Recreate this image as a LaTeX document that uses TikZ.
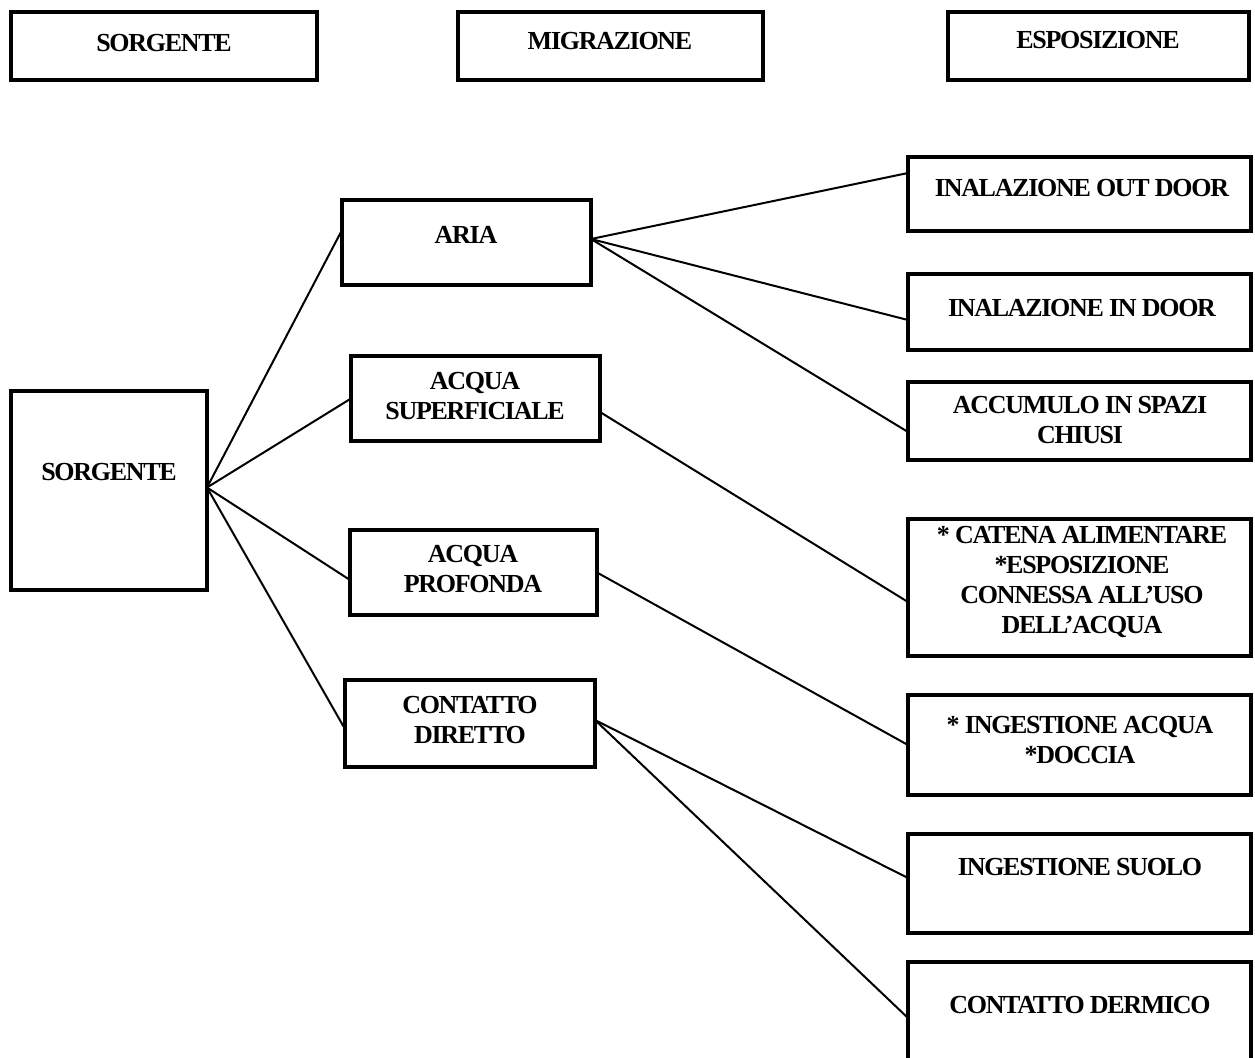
\documentclass[tikz,border=0pt]{standalone}
\usepackage{fontspec}
\setmainfont{Liberation Serif}[LetterSpace=-5]

\tikzset{
  box/.style 2 args={draw, line width=4.5pt, outer sep=0pt, inner sep=0pt,
    anchor=north west, minimum width=#1pt, minimum height=#2pt},
  lbl/.style={font=\bfseries\fontsize{26}{30}\selectfont, align=center, inner sep=0pt},
  link/.style={line width=2pt}
}

\begin{document}
\begin{tikzpicture}[x=1pt, y=-1pt]
    \useasboundingbox (0,0) rectangle (1255,1057);

    \node[box={306}{68}] (hsrc) at (11,12) {};
    \node[box={305}{68}] (hmig) at (458,12) {};
    \node[box={301}{68}] (hexp) at (948,12) {};
    \node[lbl] (hsrc-t) at (164,43) {SORGENTE};
    \node[lbl] (hmig-t) at (610,41) {MIGRAZIONE};
    \node[lbl] (hexp-t) at (1098,40) {ESPOSIZIONE};

    \node[box={196}{199}] (src) at (11,391) {};
    \node[lbl] (src-t) at (109,472) {SORGENTE};

    \node[box={249}{85}] (aria) at (342,200) {};
    \node[box={249}{85}] (asup) at (351,356) {};
    \node[box={247}{85}] (aprof) at (350,530) {};
    \node[box={250}{87}] (cdir) at (345,680) {};
    \node[lbl] (aria-t) at (466,235) {ARIA};
    \node[lbl] (asup-t) at (475,396) {ACQUA\\SUPERFICIALE};
    \node[lbl] (aprof-t) at (473,569) {ACQUA\\PROFONDA};
    \node[lbl] (cdir-t) at (470,720) {CONTATTO\\DIRETTO};

    \node[box={343}{74}] (outd) at (908,157) {};
    \node[box={343}{76}] (ind) at (908,274) {};
    \node[box={343}{78}] (accu) at (908,382) {};
    \node[box={343}{137}] (cat) at (908,519) {};
    \node[box={343}{100}] (ingacq) at (908,695) {};
    \node[box={343}{99}] (suolo) at (908,834) {};
    \node[box={343}{100}] (derm) at (908,962) {};
    \node[lbl] (outd-t) at (1082,188) {INALAZIONE OUT DOOR};
    \node[lbl] (ind-t) at (1082,308) {INALAZIONE IN DOOR};
    \node[lbl] (accu-t) at (1080,420) {ACCUMULO IN SPAZI\\CHIUSI};
    \node[lbl] (cat-t) at (1082,582) {* CATENA ALIMENTARE\\*ESPOSIZIONE\\CONNESSA ALL’USO\\DELL’ACQUA};
    \node[lbl] (ingacq-t) at (1080,740) {* INGESTIONE ACQUA\\*DOCCIA};
    \node[lbl] (suolo-t) at (1080,867) {INGESTIONE SUOLO};
    \node[lbl] (derm-t) at (1080,1005) {CONTATTO DERMICO};

    \coordinate (hub) at ([yshift=3pt]src.east);
    \draw[link] (hub) -- ([yshift=12.5pt]aria.west);
    \draw[link] (hub) -- (asup.west);
    \draw[link] (hub) -- ([yshift=-7.5pt]aprof.west);
    \draw[link] (hub) -- ([yshift=-5.5pt]cdir.west);

    \coordinate (ariahub) at ([yshift=3.5pt]aria.east);
    \draw[link] (ariahub) -- ([yshift=21pt]outd.west);
    \draw[link] (ariahub) -- ([yshift=-8pt]ind.west);
    \draw[link] (ariahub) -- ([yshift=-11pt]accu.west);

    \draw[link] ([yshift=-13.5pt]asup.east) -- ([yshift=-14.5pt]cat.west);
    \draw[link] (aprof.east) -- (ingacq.west);

    \coordinate (cdirhub) at ([yshift=3.5pt]cdir.east);
    \draw[link] (cdirhub) -- ([yshift=5.5pt]suolo.west);
    \draw[link] (cdirhub) -- ([yshift=-6pt]derm.west);
\end{tikzpicture}
\end{document}
